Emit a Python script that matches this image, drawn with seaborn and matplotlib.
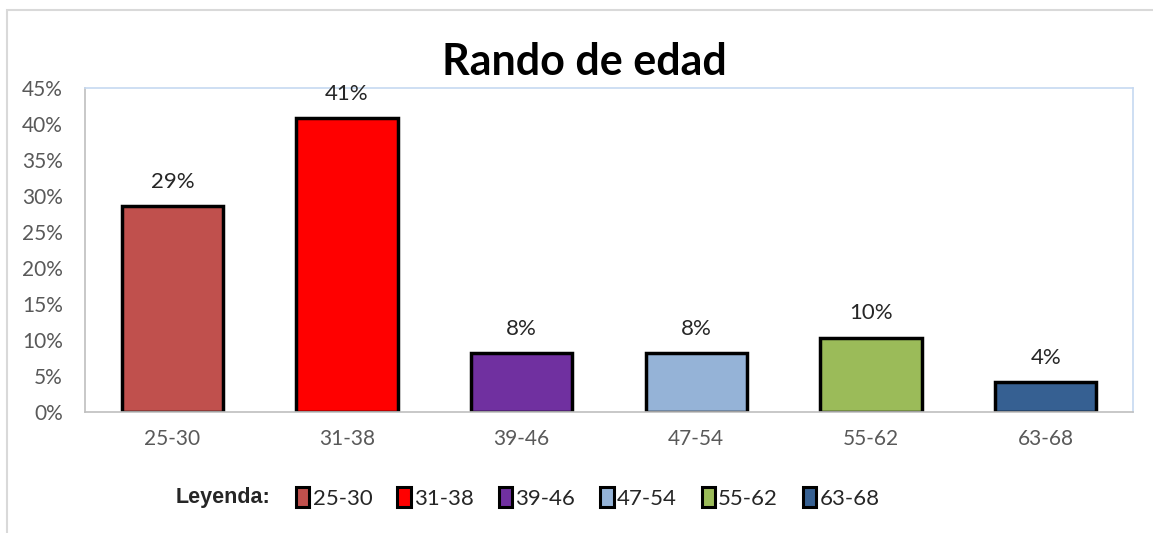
import matplotlib
matplotlib.use("Agg")
import matplotlib.pyplot as plt
import seaborn as sns
import pandas as pd
from matplotlib.patches import Patch, Rectangle

categories = ["25-30", "31-38", "39-46", "47-54", "55-62", "63-68"]
values = [28.6, 40.8, 8.2, 8.2, 10.3, 4.1]
labels = ["29%", "41%", "8%", "8%", "10%", "4%"]
colors = ["#C0504D", "#FF0000", "#7030A0", "#95B3D7", "#9BBB59", "#366092"]
yticks = [0, 5, 10, 15, 20, 25, 30, 35, 40, 45]

sns.set_theme(style="white")
plt.rcParams["font.family"] = ["Lato", "DejaVu Sans"]

df = pd.DataFrame({"cat": categories, "val": values})

fig = plt.figure(figsize=(11.53, 5.33), dpi=100)
ax = fig.add_axes([85/1153, 1-412/533, (1133-85)/1153, (412-88)/533])

sns.barplot(data=df, x="cat", y="val", hue="cat", palette=colors, legend=False,
            width=0.58, edgecolor="black", linewidth=2.5, saturation=1, ax=ax)

for i, (v, lab) in enumerate(zip(values, labels)):
    ax.text(i, v + 2.0, lab, ha="center", va="bottom", fontsize=16, color="#262626")

ax.set_ylim(0, 45)
ax.set_xlim(-0.5, len(categories) - 0.5)
ax.set_yticks(yticks)
ax.set_yticklabels([f"{t}%" for t in yticks])
ax.tick_params(axis="y", labelsize=15, colors="#595959", length=0, pad=16)
ax.tick_params(axis="x", labelsize=15, colors="#595959", length=0, pad=12)
ax.set_xlabel("")
ax.set_ylabel("")
for s in ["left", "bottom"]:
    ax.spines[s].set_color("#BFBFBF")
    ax.spines[s].set_linewidth(1.2)
for s in ["top", "right"]:
    ax.spines[s].set_color("#C6D9F1")
    ax.spines[s].set_linewidth(1.2)

fig.text(584/1153, 1-62/533, "Rando de edad", ha="center", va="center",
         fontsize=31, fontweight="bold", color="black")

# outer chart border
fig.patches.append(Rectangle((7/1153, -0.05), 1.2, 1 - 10/533 + 0.05,
                             transform=fig.transFigure, fill=False,
                             edgecolor="#D9D9D9", linewidth=1.5))

fig.text(223/1153, 1-498/533, "Leyenda:", ha="center", va="center",
         fontsize=15.5, fontweight="bold", family=["Liberation Sans", "DejaVu Sans"])

handles = [Patch(facecolor=c, edgecolor="black", linewidth=2.2) for c in colors]
fig.legend(handles, categories, loc="center left", bbox_to_anchor=(296/1153, 1-498/533),
           ncol=6, frameon=False, fontsize=16, handlelength=0.6, handleheight=0.95,
           handletextpad=0.15, columnspacing=1.12, borderaxespad=0, borderpad=0)

fig.savefig("out.png", dpi=100, facecolor="white")
